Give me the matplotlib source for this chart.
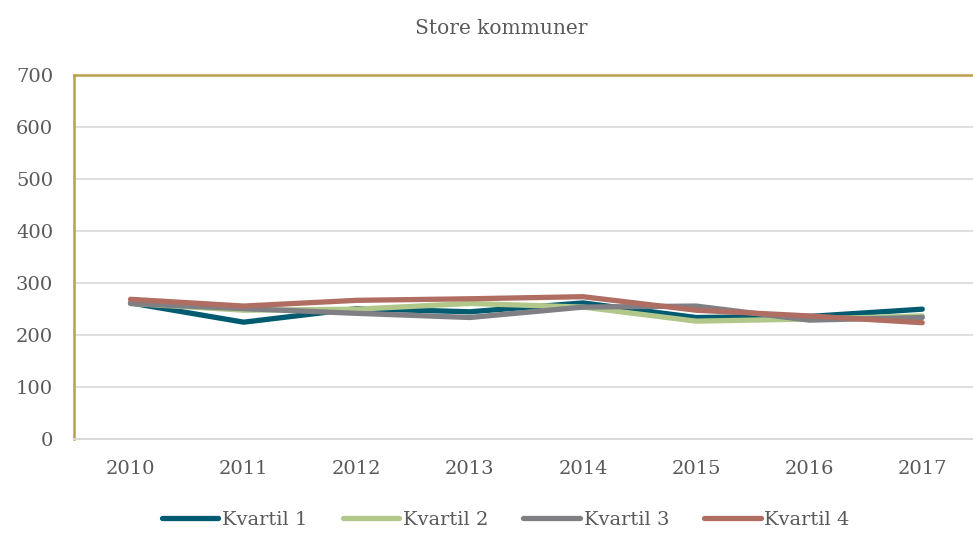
import matplotlib.pyplot as plt
import numpy as np

YEARS = ["2010", "2011", "2012", "2013", "2014", "2015", "2016", "2017"]
KVARTIL_1 = [262, 225, 251, 245, 262, 234, 236, 250]
KVARTIL_2 = [261, 248, 250, 261, 254, 227, 231, 237]
KVARTIL_3 = [261, 251, 242, 234, 254, 256, 229, 234]
KVARTIL_4 = [269, 256, 267, 270, 274, 248, 237, 224]
SERIES_NAMES = ["Kvartil 1", "Kvartil 2", "Kvartil 3", "Kvartil 4"]
COLORS = ["#005a70", "#b2c88a", "#7f7f84", "#b06e62"]

TEXT = "#595959"
GOLD = "#b8a04e"
GRID = "#d9d9d9"

plt.rcParams["font.family"] = ["DejaVu Serif"]

fig = plt.figure(figsize=(9.73, 5.33), dpi=100)
ax = fig.add_axes([0.076, 0.176, 0.93, 0.683])

x = np.arange(len(YEARS))
for name, vals, col in zip(SERIES_NAMES, [KVARTIL_1, KVARTIL_2, KVARTIL_3, KVARTIL_4], COLORS):
    ax.plot(x, vals, color=col, lw=3.8, solid_capstyle="round", label=name)

ax.set_xlim(-0.5, len(YEARS) - 0.5)
ax.set_ylim(0, 700)
ax.set_yticks(range(0, 701, 100))
ax.set_xticks(x)
ax.set_xticklabels(YEARS)
ax.yaxis.grid(True, color=GRID, lw=1.2)
ax.set_axisbelow(True)
ax.tick_params(length=0, labelsize=14, colors=TEXT)
ax.tick_params(axis="y", pad=15)
ax.tick_params(axis="x", pad=15)

ax.spines["right"].set_visible(False)
ax.spines["left"].set_color(GOLD)
ax.spines["left"].set_linewidth(1.8)
ax.spines["top"].set_color(GOLD)
ax.spines["top"].set_linewidth(1.8)
ax.spines["bottom"].set_color(GRID)
ax.spines["bottom"].set_linewidth(1.4)

fig.text(0.515, 0.947, "Store kommuner", ha="center", va="center", fontsize=14.5, color=TEXT)

leg = fig.legend(loc="center", bbox_to_anchor=(0.52, 0.024), ncol=4, frameon=False,
                 fontsize=14, handlelength=2.9, handletextpad=0.2, columnspacing=1.8)
for t in leg.get_texts():
    t.set_color(TEXT)

fig.savefig("out.png", dpi=100)
